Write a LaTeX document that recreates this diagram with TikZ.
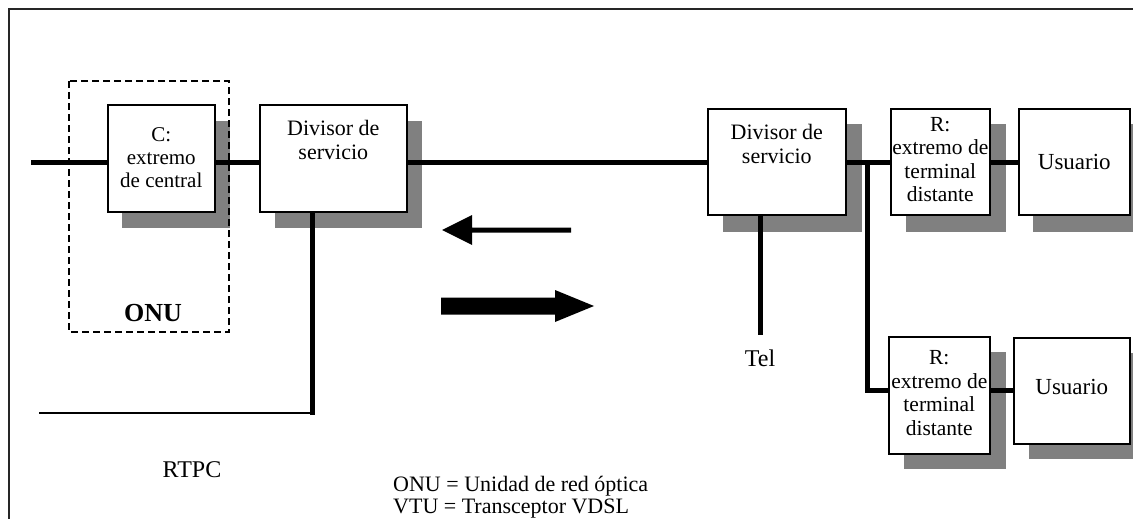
\documentclass[tikz,border=0pt]{standalone}
\usepackage{fontspec}
\setmainfont{Liberation Serif}
\usetikzlibrary{calc}
\tikzset{
  box/.style={draw=black, line width=1.6pt, fill=white, inner sep=0pt, anchor=north west},
  shadowbox/.style={fill=black!50, draw=none},
  wire/.style={line width=5pt},
  thinwire/.style={line width=1.6pt},
  frame/.style={line width=1.6pt, draw=black!85},
  txt/.style={font=\fontsize{22}{24}\selectfont, align=center, inner sep=0pt},
  onubox/.style={draw, dashed, dash pattern=on 7pt off 4pt, line width=1.5pt}
}
\begin{document}
\begin{tikzpicture}[x=1pt,y=-1pt]
\useasboundingbox (0,0) rectangle (1133,519);
% frame
\draw[frame] (9,519) -- (9,9) -- (1133,9);
% shadows
\fill[shadowbox] (122,121) rectangle (230,228);
\fill[shadowbox] (275,121) rectangle (422,228);
\fill[shadowbox] (723,124) rectangle (862,232);
\fill[shadowbox] (906,124) rectangle (1006,232);
\fill[shadowbox] (1033,124) rectangle (1133,232);
\fill[shadowbox] (904,352) rectangle (1006,469);
\fill[shadowbox] (1029,353) rectangle (1133,459);
% boxes
\node[box, minimum width=107pt, minimum height=107pt] (C) at (107,104) {};
\node[box, minimum width=147pt, minimum height=107pt] (D1) at (259,104) {};
\node[box, minimum width=138pt, minimum height=106pt] (D2) at (707,108) {};
\node[box, minimum width=99pt, minimum height=106pt] (R1) at (890,108) {};
\node[box, minimum width=111pt, minimum height=106pt] (U1) at (1018,108) {};
\node[box, minimum width=101pt, minimum height=117pt] (R2) at (888,336) {};
\node[box, minimum width=116pt, minimum height=106pt] (U2) at (1013,337) {};
% texts in boxes
\node[txt, font=\fontsize{21}{23}\selectfont] (Ct) at ($(C.center)+(0,-1)$) {C:\\extremo\\de central};
\node[txt, anchor=north] (D1t) at ($(D1.north)+(0,16)$) {Divisor de\\servicio};
\node[txt, anchor=north] (D2t) at ($(D2.north)+(0,16)$) {Divisor de\\servicio};
\node[txt, font=\fontsize{21.5}{23.5}\selectfont] (R1t) at ($(R1.center)+(0,-2)$) {R:\\extremo de\\terminal\\distante};
\node[txt, font=\fontsize{21.5}{23.5}\selectfont] (R2t) at ($(R2.center)+(0,-2)$) {R:\\extremo de\\terminal\\distante};
\node[txt, font=\fontsize{23}{25}\selectfont] (U1t) at (U1.center) {Usuario};
\node[txt, font=\fontsize{23}{25}\selectfont] (U2t) at ($(U2.center)+(0,-4)$) {Usuario};
% dashed ONU box
\draw[onubox] (69,81) rectangle (229,332);
\node[font=\bfseries\fontsize{26}{28}\selectfont, inner sep=0pt] (onu) at (153,313) {ONU};
% wires
\coordinate (in) at (31,162);
\draw[wire] (in) -- (C.west |- in);
\draw[wire] (C.east |- in) -- (D1.west |- in);
\draw[wire] (D1.east |- in) -- (D2.west |- in);
\draw[wire] (D2.east |- in) -- (R1.west |- in);
\draw[wire] (R1.east |- in) -- (U1.west |- in);
\coordinate (br) at (867,162);
\coordinate (br2) at (867,390);
\draw[wire, line join=miter] (br) -- (br2) -- (R2.west |- br2);
\draw[wire] (R2.east |- br2) -- (U2.west |- br2);
% RTPC
\coordinate (rt) at (312,412);
\draw[wire] (rt |- D1.south) -- ($(rt)+(0,2.5)$);
\draw[thinwire] (rt) ++(0,1) -- (39,413);
\node[txt, font=\fontsize{24}{26}\selectfont] (rtpc) at (192,470) {RTPC};
% Tel
\coordinate (tel) at (760,335);
\draw[wire] (tel |- D2.south) -- (tel);
\node[txt, font=\fontsize{24}{26}\selectfont] (telt) at (760,358) {Tel};
% arrows
\fill (442,230) -- (472,215) -- (472,227.5) -- (571,227.5) -- (571,232.5) -- (472,232.5) -- (472,245) -- cycle;
\fill (441,297.5) -- (555,297.5) -- (555,290) -- (594,306) -- (555,322) -- (555,314.5) -- (441,314.5) -- cycle;
% legend
\node[txt, align=left, anchor=west, font=\fontsize{22}{22}\selectfont] (leg) at (393,497) {ONU = Unidad de red óptica\\VTU = Transceptor VDSL};
\end{tikzpicture}
\end{document}
